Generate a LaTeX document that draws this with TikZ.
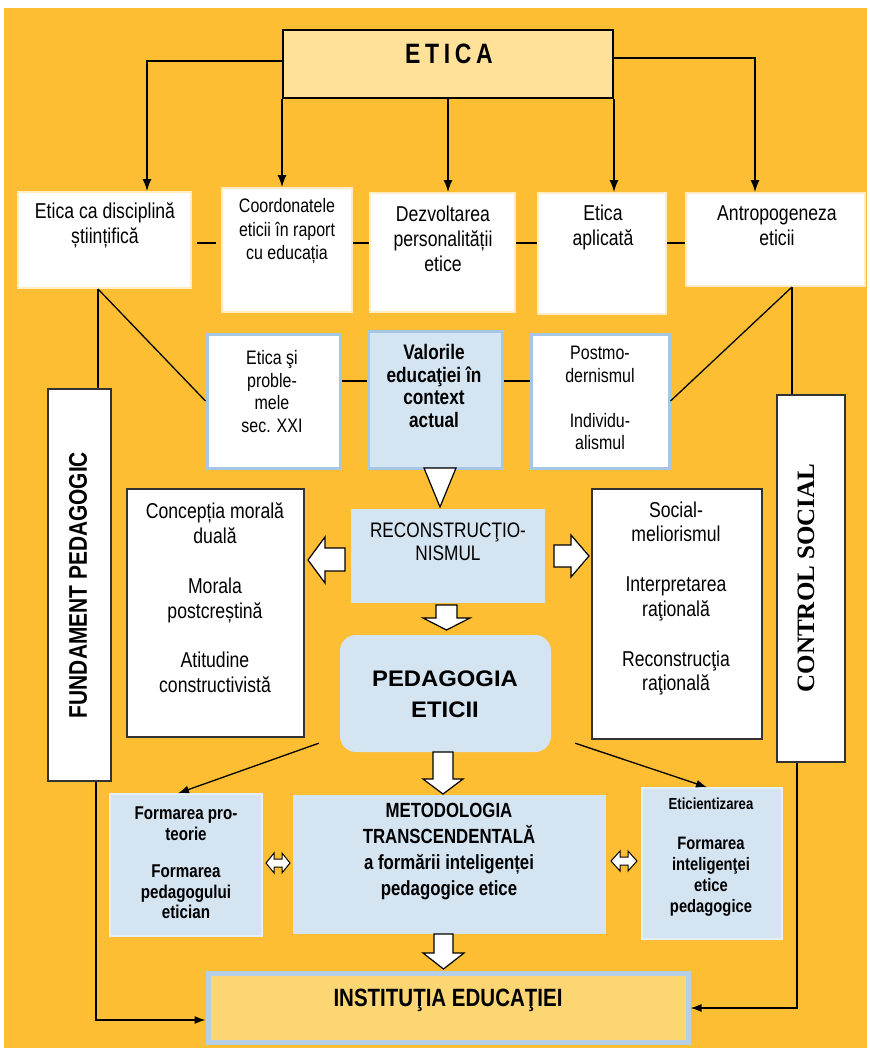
\documentclass[tikz,border=0pt]{standalone}
\usepackage{fontspec}
\setmainfont{Liberation Sans}[FakeStretch=0.82]
\newfontfamily\widefont{Liberation Sans}[FakeStretch=1.06]
\newfontfamily\timesfont{Liberation Serif}
\usetikzlibrary{arrows.meta}
\definecolor{bgor}{HTML}{FDBE33}
\definecolor{etfill}{HTML}{FFE199}
\definecolor{lblue}{HTML}{D4E4F1}
\definecolor{bblue}{HTML}{A6C6E6}
\definecolor{cream}{HTML}{FFEBC4}
\definecolor{instfill}{HTML}{FDD674}
\definecolor{instbord}{HTML}{B6CEE6}
\definecolor{darkb}{HTML}{333333}
\begin{document}
\begin{tikzpicture}[x=1pt,y=-1pt,
  txt/.style={align=center, inner sep=0pt, font=\fontsize{21.5}{25}\selectfont},
  tbox/.style={draw=cream, line width=2pt, fill=white, inner sep=0pt},
  sbox/.style={draw=bblue, line width=3pt, fill=white, inner sep=0pt},
  vbox/.style={draw=bblue, line width=3pt, fill=lblue, inner sep=0pt},
  mbox/.style={draw=darkb, line width=2.5pt, fill=white, inner sep=0pt},
  lbbox/.style={fill=lblue, inner sep=0pt},
  conn/.style={line width=1.3pt, black},
  arr/.style={conn, -{Latex[length=12pt,width=9pt]}},
  arrs/.style={conn, -{Latex[length=11pt,width=8pt]}},
  barrow/.style={draw=black, fill=white, line width=1.2pt, line join=miter}]
\useasboundingbox (0,0) rectangle (870,1058);
\fill[white] (0,0) rectangle (870,1058);
\fill[bgor] (4,8) rectangle (867,1048);

% ETICA
\node[draw=black, line width=2pt, fill=etfill, minimum width=330pt, minimum height=68pt, inner sep=0pt] (e) at (448,64) {};
\node[txt, font=\fontsize{28}{30}\selectfont\bfseries] (et) at (449,54) {E\,T\,I\,C\,A};

% top row
\node[tbox, minimum width=173pt, minimum height=96pt] (t1) at (104.5,240) {};
\node[txt] (t1x) at (105,225.5) {Etica ca disciplină\\științifică};
\node[tbox, minimum width=130pt, minimum height=124pt] (t2) at (287,250) {};
\node[txt, font=\fontsize{19.5}{23.5}\selectfont] (t2x) at (287,231) {Coordonatele\\eticii în raport\\cu educația};
\node[tbox, minimum width=145pt, minimum height=119pt] (t3) at (442.5,252.5) {};
\node[txt] (t3x) at (443,239) {Dezvoltarea\\personalității\\etice};
\node[tbox, minimum width=128pt, minimum height=121pt] (t4) at (602,253.5) {};
\node[txt] (t4x) at (603,227) {Etica\\aplicată};
\node[tbox, minimum width=179pt, minimum height=93pt] (t5) at (775.5,239.5) {};
\node[txt] (t5x) at (777,225.5) {Antropogeneza\\eticii};

% second row
\node[sbox, minimum width=133pt, minimum height=134pt] (s1) at (273.5,401) {};
\node[txt, font=\fontsize{19.5}{22.5}\selectfont] (s1x) at (272,391.5) {Etica şi\\proble-\\mele\\sec. XXI};
\node[vbox, minimum width=134pt, minimum height=137pt] (s2) at (435,399.5) {};
\node[txt, font=\fontsize{21}{22.5}\selectfont\bfseries] (s2x) at (434,386) {Valorile\\educaţiei în\\context\\actual};
\node[sbox, minimum width=138pt, minimum height=134pt] (s3) at (600,401) {};
\node[txt, font=\fontsize{19.5}{22.5}\selectfont] (s3x) at (600,398) {Postmo-\\dernismul\\[22.5pt]Individu-\\alismul};

% side boxes
\node[draw=darkb, line width=2pt, fill=white, minimum width=63pt, minimum height=392pt, inner sep=0pt] (fund) at (79.5,585) {};
\node[txt, rotate=90, font=\fontsize{25.5}{27}\selectfont\bfseries] (fundx) at (78,585) {FUNDAMENT PEDAGOGIC};
\node[draw=darkb, line width=2pt, fill=white, minimum width=68pt, minimum height=367pt, inner sep=0pt] (cs) at (811,578.5) {};
\node[txt, rotate=90, font=\fontsize{25}{27}\timesfont\bfseries] (csx) at (806,578) {CONTROL SOCIAL};

% middle
\node[mbox, minimum width=177pt, minimum height=248pt] (ml) at (215.5,613) {};
\node[txt, font=\fontsize{21.5}{24.75}\selectfont] (mlx) at (215,598) {Concepția morală\\duală\\[25pt]Morala\\postcreștină\\[25pt]Atitudine\\constructivistă};
\node[mbox, minimum width=170pt, minimum height=250pt] (mr) at (677,614) {};
\node[txt, font=\fontsize{21.5}{24.75}\selectfont] (mrx) at (676,598.5) {Social-\\meliorismul\\[25pt]Interpretarea\\raţională\\[25pt]Reconstrucţia\\raţională};
\node[lbbox, minimum width=194pt, minimum height=94pt] (rec) at (448,556) {};
\node[txt, font=\fontsize{21}{23}\selectfont] (recx) at (448,541.5) {RECONSTRUCŢIO-\\NISMUL};
\node[lbbox, rounded corners=16pt, minimum width=211pt, minimum height=117pt] (ped) at (445.5,693.5) {};
\node[txt, font=\fontsize{22.5}{31}\widefont\bfseries] (pedx) at (445,694.5) {PEDAGOGIA\\ETICII};

% bottom
\node[lbbox, draw=lblue!60!white, line width=1.5pt, minimum width=152pt, minimum height=142pt] (bl) at (186,865) {};
\node[txt, font=\fontsize{18.5}{20.5}\selectfont\bfseries] (blx) at (186,863) {Formarea pro-\\teorie\\[17pt]Formarea\\pedagogului\\etician};
\node[lbbox, minimum width=313pt, minimum height=139pt] (bm) at (449.5,864.5) {};
\node[txt, font=\fontsize{20.5}{25.7}\selectfont\bfseries] (bmx) at (449,851.5) {METODOLOGIA\\TRANSCENDENTALĂ\\a formării inteligenței\\pedagogice etice};
\node[lbbox, draw=lblue!60!white, line width=1.5pt, minimum width=140pt, minimum height=151pt] (br) at (712,863.5) {};
\node[txt, font=\fontsize{16}{18}\selectfont\bfseries] (brx1) at (711,804) {Eticientizarea};
\node[txt, font=\fontsize{18}{21}\selectfont\bfseries] (brx2) at (711,876.5) {Formarea\\inteligenţei\\etice\\pedagogice};
\node[draw=instbord, line width=5pt, fill=instfill, minimum width=480pt, minimum height=69pt, inner sep=0pt] (inst) at (448,1007.5) {};
\node[txt, font=\fontsize{25}{27}\selectfont\bfseries] (instx) at (448,1000) {INSTITUŢIA EDUCAŢIEI};

% connectors from ETICA
\draw[arr] ([yshift=3pt]e.west) -| ([xshift=42.5pt]t1.north);
\draw[arr] (e.south west) -- (e.south west |- t2.north);
\draw[arr] (e.south) -- (e.south |- t3.north);
\draw[arr] (e.south east) -- (e.south east |- t4.north);
\draw[arr] ([yshift=6pt]e.east) -| ([xshift=-20.5pt]t5.north);

% horizontal links
\coordinate (r1) at (0,243);
\coordinate (r2) at (0,381);
\draw[conn, shorten <=5pt, shorten >=5pt] (t1.east |- r1) -- (t2.west |- r1);
\draw[conn] (t2.east |- r1) -- (t3.west |- r1);
\draw[conn] (t3.east |- r1) -- (t4.west |- r1);
\draw[conn] (t4.east |- r1) -- (t5.west |- r1);
\draw[conn] (s1.east |- r2) -- (s2.west |- r2);
\draw[conn] (s2.east |- r2) -- (s3.west |- r2);

% side links
\coordinate (p1) at ([xshift=-6.5pt]t1.south);
\draw[conn] (p1) -- (p1 |- fund.north);
\draw[conn] (p1) -- (s1.west);
\coordinate (p2) at ([xshift=16.5pt]t5.south);
\draw[conn] (p2) -- (p2 |- cs.north);
\draw[conn] (p2) -- (s3.east);

% bottom links
\draw[arrs] ([xshift=16.5pt]fund.south) |- ([yshift=-12.5pt]inst.west);
\draw[arrs] ([xshift=-14pt]cs.south) |- ([yshift=-0.5pt]inst.east);
\draw[arrs] ([xshift=-21pt,yshift=9pt]ped.south west) -- ([xshift=-8pt]bl.north);
\draw[arrs] ([xshift=24pt,yshift=9pt]ped.south east) -- ([xshift=-5pt]br.north);

% block arrows
\draw[barrow] (424,468) -- (456,468) -- (440,507) -- cycle;
\draw[barrow] (345,548) -- (325,548) -- (325,537) -- (308,560) -- (325,583) -- (325,571) -- (345,571) -- cycle;
\draw[barrow] (554,545) -- (571,545) -- (571,535) -- (589,556) -- (571,577) -- (571,567) -- (554,567) -- cycle;
\draw[barrow] (436,605) -- (457,605) -- (457,618) -- (470,618) -- (446.5,630) -- (423,618) -- (436,618) -- cycle;
\draw[barrow] (433,752) -- (453,752) -- (453,779) -- (463,779) -- (443,794) -- (423,779) -- (433,779) -- cycle;
\draw[barrow] (434,934) -- (453,934) -- (453,953) -- (464,953) -- (443.5,969) -- (423,953) -- (434,953) -- cycle;
\draw[barrow, line width=1pt] (266,863) -- (274,853) -- (274,859) -- (282,859) -- (282,853) -- (290,863) -- (282,873) -- (282,867) -- (274,867) -- (274,873) -- cycle;
\draw[barrow, line width=1pt] (611,861) -- (620,851) -- (620,857) -- (628,857) -- (628,851) -- (637,861) -- (628,871) -- (628,865) -- (620,865) -- (620,871) -- cycle;
\end{tikzpicture}
\end{document}
